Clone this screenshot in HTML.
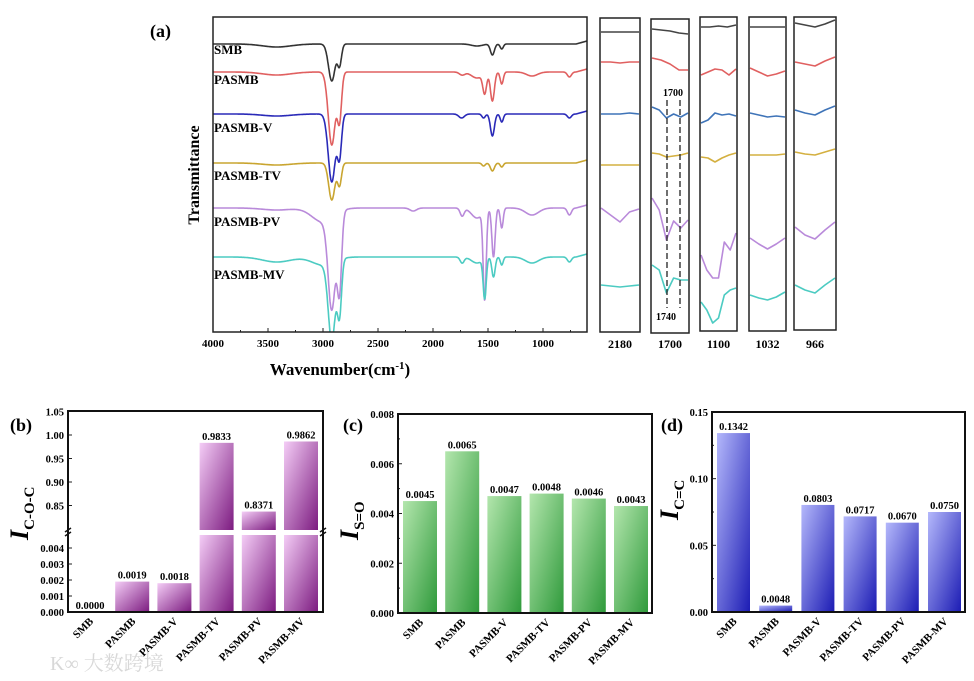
<!DOCTYPE html>
<html><head><meta charset="utf-8">
<style>
html,body{margin:0;padding:0;background:#fff;}
svg{display:block;font-family:"Liberation Serif","Noto Serif CJK SC",serif;font-weight:bold;}
</style></head>
<body>
<svg id="fig" width="974" height="681" viewBox="0 0 974 681" xmlns="http://www.w3.org/2000/svg">
<defs>
<linearGradient id="gPur" x1="0" y1="0" x2="1" y2="1"><stop offset="0" stop-color="#f4cdf6"/><stop offset="1" stop-color="#7c1b80"/></linearGradient>
<linearGradient id="gGrn" x1="0" y1="0" x2="1" y2="1"><stop offset="0" stop-color="#b3e6ad"/><stop offset="1" stop-color="#2f9a3b"/></linearGradient>
<linearGradient id="gBlu" x1="0" y1="0" x2="1" y2="1"><stop offset="0" stop-color="#b4b8fb"/><stop offset="1" stop-color="#1c1cb4"/></linearGradient>
</defs>
<text x="150" y="37" font-size="18">(a)</text>
<text x="10" y="431" font-size="18">(b)</text>
<text x="343" y="431" font-size="18">(c)</text>
<text x="661" y="431" font-size="18">(d)</text>
<text x="50" y="670" font-size="20" fill="#d8d8d8" font-weight="normal">K∞ 大数跨境</text>
<g id="ftir"></g>
<g id="zooms"></g>
<g id="pb"></g>
<g id="pc"></g>
<g id="pd"></g>
</svg>
<script>
const NS="http://www.w3.org/2000/svg";
const seriesNames=["SMB","PASMB","PASMB-V","PASMB-TV","PASMB-PV","PASMB-MV"];
const seriesColors=["#333333","#e06060","#2a2ab8","#c9a530","#b98ada","#4ccbc2"];
const zoomColors=["#444444","#e06060","#3f74b8","#d4b040","#b98ada","#4ccbc2"];
// FTIR: baseline (px) and peaks [wavenumber, depth px, width cm-1]
const ftirBase=[44,72,114,163,208,257];
const ftirPeaks=[
 [[3420,3,130],[2920,37,30],[2850,21,18],[1460,11,18],[1375,5,14],[1600,2,50]],
 [[3420,3,130],[2920,73,32],[2850,46,19],[1530,20,17],[1460,29,18],[1375,12,14],[1735,3,25],[1600,6,50],[1100,4,50],[760,5,18]],
 [[3420,2,130],[2920,68,32],[2850,41,19],[1540,4,15],[1460,22,18],[1375,8,14],[1740,4,25],[760,4,18]],
 [[3420,2,130],[2920,37,28],[2850,22,18],[1460,8,18],[1375,4,14],[1540,3,15]],
 [[3420,2,130],[3000,14,100],[2920,92,33],[2850,75,20],[2180,3,30],[1735,8,18],[1600,10,50],[1530,89,14],[1450,49,15],[1375,20,13],[1100,7,60],[760,7,18]],
 [[3420,5,130],[3000,8,100],[2920,78,32],[2850,53,19],[1735,6,18],[1600,6,50],[1530,40,14],[1450,20,15],[1375,8,13],[1100,6,60],[760,5,18]]
];
const xTicks=[4000,3500,3000,2500,2000,1500,1000];
// zoom panels: y values (px) sampled evenly across each panel
const zoomTitles=["2180","1700","1100","1032","966"];
const zoomData=[
 [[32,32,32,32,32],[62,62,63,62,62],[114,114,114,113,114],[165,165,165,165,165],[208,215,222,212,209],[285,286,287,286,285]],
 [[29,30,31,33,34],[58,60,64,70,70],[107,110,118,114,117,113],[153,154,157,156,155,153],[198,210,240,221,228,220],[265,270,293,278,280,280]],
 [[27,27,26,27,25],[75,72,69,70,75,69],[123,120,113,115,114,116],[157,158,162,158,155,153],[255,270,278,278,242,250,233],[302,310,323,318,295,290,288]],
 [[27,27,27,27,27],[68,72,76,74,71],[113,115,117,116,117],[155,155,155,155,154],[238,244,249,244,238],[295,298,300,297,292]],
 [[23,25,27,24,20],[62,64,66,61,57],[110,113,115,110,106],[152,154,155,152,149],[227,235,239,230,222],[285,290,293,285,278]]
];
const zoomBoxes=[[600,18,640,332],[651,19,689,333],[700,17,737,331],[749,17,786,331],[794,17,836,330]];
// bar chart data
const valsB=[0.0000,0.0019,0.0018,0.9833,0.8371,0.9862];
const labelsB=["0.0000","0.0019","0.0018","0.9833","0.8371","0.9862"];
const ticksBUpper=["0.85","0.90","0.95","1.00","1.05"];
const ticksBLower=["0.000","0.001","0.002","0.003","0.004"];
const valsC=[0.0045,0.0065,0.0047,0.0048,0.0046,0.0043];
const labelsC=["0.0045","0.0065","0.0047","0.0048","0.0046","0.0043"];
const ticksC=["0.000","0.002","0.004","0.006","0.008"];
const valsD=[0.1342,0.0048,0.0803,0.0717,0.0670,0.0750];
const labelsD=["0.1342","0.0048","0.0803","0.0717","0.0670","0.0750"];
const ticksD=["0.00","0.05","0.10","0.15"];

function mk(parent,tag,attrs,text){const e=document.createElementNS(NS,tag);for(const k in attrs)e.setAttribute(k,attrs[k]);if(text!==undefined)e.textContent=text;parent.appendChild(e);return e;}

// ---- FTIR main ----
const gA=document.getElementById('ftir');
const ax0=213,ax1=587,ay0=17,ay1=332;
const xw=w=>ax0+(4000-w)*0.11;
let clip=mk(gA,'clipPath',{id:'clipA'});mk(clip,'rect',{x:ax0,y:ay0,width:ax1-ax0,height:ay1-ay0});
ftirBase.forEach((b,i)=>{
 let pts=[];
 for(let w=4000;w>=600;w-=4){let y=b;ftirPeaks[i].forEach(p=>{y+=p[1]*Math.exp(-0.5*((w-p[0])/p[2])**2);});if(w<700)y-=(700-w)*0.03;pts.push(xw(w).toFixed(1)+","+y.toFixed(1));}
 const pl=mk(gA,'polyline',{points:pts.join(" "),fill:"none",stroke:seriesColors[i],"stroke-width":1.6,"stroke-linejoin":"round","clip-path":"url(#clipA)"});
 
 
});
const lblY=[54,84,132,180,226,279];
seriesNames.forEach((n,i)=>{const t=mk(gA,'text',{x:214,y:lblY[i],"font-size":13},n);
 });
const fr=mk(gA,'rect',{x:ax0,y:ay0,width:ax1-ax0,height:ay1-ay0,fill:"none",stroke:"#222","stroke-width":1.5});

xTicks.forEach(v=>{const x=xw(v);mk(gA,'line',{x1:x,y1:ay1,x2:x,y2:ay1-4,stroke:"#222"});
 const t=mk(gA,'text',{x:x,y:347,"font-size":11,"text-anchor":"middle"},v);
 
 const xm=xw(v-250);if(xm<ax1)mk(gA,'line',{x1:xm,y1:ay1,x2:xm,y2:ay1-2,stroke:"#222"});});
let t=mk(gA,'text',{x:340,y:375,"font-size":17,"text-anchor":"middle"});t.innerHTML='Wavenumber(cm<tspan dy="-6" font-size="11">-1</tspan><tspan dy="6">)</tspan>';

t=mk(gA,'text',{x:0,y:0,"font-size":16,"text-anchor":"middle",transform:"translate(199,175) rotate(-90)"},"Transmittance");


// ---- zoom panels ----
const gZ=document.getElementById('zooms');
zoomBoxes.forEach((bx,k)=>{
 const [x0,y0,x1,y1]=bx;
 zoomData[k].forEach((ys,i)=>{
  const n=ys.length;const pts=ys.map((y,j)=>(x0+1+(x1-x0-2)*j/(n-1)).toFixed(1)+","+y);
  const pl=mk(gZ,'polyline',{points:pts.join(" "),fill:"none",stroke:zoomColors[i],"stroke-width":1.6,"stroke-linejoin":"round"});
  
  
 });
 const r=mk(gZ,'rect',{x:x0,y:y0,width:x1-x0,height:y1-y0,fill:"none",stroke:"#222","stroke-width":1.5});
 
 const tt=mk(gZ,'text',{x:(x0+x1)/2,y:348,"font-size":12,"text-anchor":"middle"},zoomTitles[k]);
 
});
[667,680].forEach(x=>{const l=mk(gZ,'line',{x1:x,y1:100,x2:x,y2:308,stroke:"#222","stroke-width":1.3,"stroke-dasharray":"6,3"});
 });
t=mk(gZ,'text',{x:673,y:96,"font-size":10,"text-anchor":"middle"},"1700");
t=mk(gZ,'text',{x:666,y:320,"font-size":10,"text-anchor":"middle"},"1740");

// ---- bar helpers ----
function catLabels(g,centers,bottom){
 seriesNames.forEach((n,i)=>{const t=mk(g,'text',{x:0,y:0,"font-size":11,"text-anchor":"end",transform:`translate(${centers[i]+4},${bottom+10}) rotate(-45)`},n);
  });
}
function yTitle(g,x,y,sub){const t=mk(g,'text',{x:0,y:0,"font-size":26,transform:`translate(${x},${y}) rotate(-90)`});
 t.innerHTML='<tspan font-style="italic">I</tspan><tspan font-size="15" dy="6">'+sub+'</tspan>';
 }
function simpleBars(g,o){
 const {l,r,top,bot,max,vals,labels,ticks,grad,first,period,bw}=o;
 const ys=v=>bot-(v/max)*(bot-top);const centers=[];
 vals.forEach((v,i)=>{const x=first+i*period;centers.push(x+bw/2);
  const b=mk(g,'rect',{x:x,y:ys(v),width:bw,height:bot-ys(v),fill:grad});
  
  const tx=mk(g,'text',{x:x+bw/2,y:ys(v)-3,"font-size":10.5,"text-anchor":"middle"},labels[i]);
  });
 ticks.forEach((s,i)=>{const v=parseFloat(s),y=ys(v);mk(g,'line',{x1:l,y1:y,x2:l+4,y2:y,stroke:"#222"});
  const t=mk(g,'text',{x:l-4,y:y+4,"font-size":10.5,"text-anchor":"end"},s);
  if(i<ticks.length-1){const ym=ys(v+(parseFloat(ticks[1])-parseFloat(ticks[0]))/2);mk(g,'line',{x1:l,y1:ym,x2:l+2,y2:ym,stroke:"#222"});}});
 const f=mk(g,'rect',{x:l,y:top,width:r-l,height:bot-top,fill:"none",stroke:"#111","stroke-width":2});
 
 catLabels(g,centers,bot);
}
// ---- chart c ----
const gC=document.getElementById('pc');
simpleBars(gC,{l:398,r:652,top:414,bot:613,max:0.008,vals:valsC,labels:labelsC,ticks:ticksC,grad:"url(#gGrn)",first:403,period:42.2,bw:34});
yTitle(gC,358,540,"S=O");
// ---- chart d ----
const gD=document.getElementById('pd');
simpleBars(gD,{l:712,r:965,top:412,bot:612,max:0.15,vals:valsD,labels:labelsD,ticks:ticksD,grad:"url(#gBlu)",first:717,period:42.2,bw:33});
yTitle(gD,678,520,"C=C");
// ---- chart b (broken axis) ----
const gB=document.getElementById('pb');
const bl=68,br=323,btop=411,bbot=612,brkUp=530,brkLo=535;
const yUp=v=>435+(1.00-v)*470;
const yLo=v=>bbot-v*16000;
const centersB=[];
valsB.forEach((v,i)=>{const x=73+i*42.2,bw=34;centersB.push(x+bw/2);
 let ty;
 if(v>0.5){
  const b1=mk(gB,'rect',{x:x,y:brkLo,width:bw,height:bbot-brkLo,fill:"url(#gPur)"});
  
  const b2=mk(gB,'rect',{x:x,y:yUp(v),width:bw,height:brkUp-yUp(v),fill:"url(#gPur)"});
  
  ty=yUp(v);
 } else {
  const b=mk(gB,'rect',{x:x,y:yLo(v),width:bw,height:bbot-yLo(v),fill:"url(#gPur)"});
  
  ty=yLo(v);
 }
 const tx=mk(gB,'text',{x:x+bw/2,y:ty-3,"font-size":10.5,"text-anchor":"middle"},labelsB[i]);
 
});
ticksBUpper.forEach(s=>{const y=yUp(parseFloat(s));mk(gB,'line',{x1:bl,y1:y,x2:bl+4,y2:y,stroke:"#222"});
 const t=mk(gB,'text',{x:bl-4,y:y+4,"font-size":10.5,"text-anchor":"end"},s);});
ticksBLower.forEach(s=>{const y=yLo(parseFloat(s));mk(gB,'line',{x1:bl,y1:y,x2:bl+4,y2:y,stroke:"#222"});
 const t=mk(gB,'text',{x:bl-4,y:y+4,"font-size":10.5,"text-anchor":"end"},s);});
mk(gB,'rect',{x:bl,y:btop,width:br-bl,height:bbot-btop,fill:"none",stroke:"#111","stroke-width":2});
mk(gB,'line',{x1:bl-3,y1:brkUp+2,x2:bl+3,y2:brkUp-2,stroke:"#111","stroke-width":1.5});
mk(gB,'line',{x1:bl-3,y1:brkLo+1,x2:bl+3,y2:brkLo-3,stroke:"#111","stroke-width":1.5});
mk(gB,'line',{x1:br-3,y1:brkUp+2,x2:br+3,y2:brkUp-2,stroke:"#111","stroke-width":1.5});
mk(gB,'line',{x1:br-3,y1:brkLo+1,x2:br+3,y2:brkLo-3,stroke:"#111","stroke-width":1.5});
catLabels(gB,centersB,bbot);
yTitle(gB,28,540,"C-O-C");
</script>
</body></html>
